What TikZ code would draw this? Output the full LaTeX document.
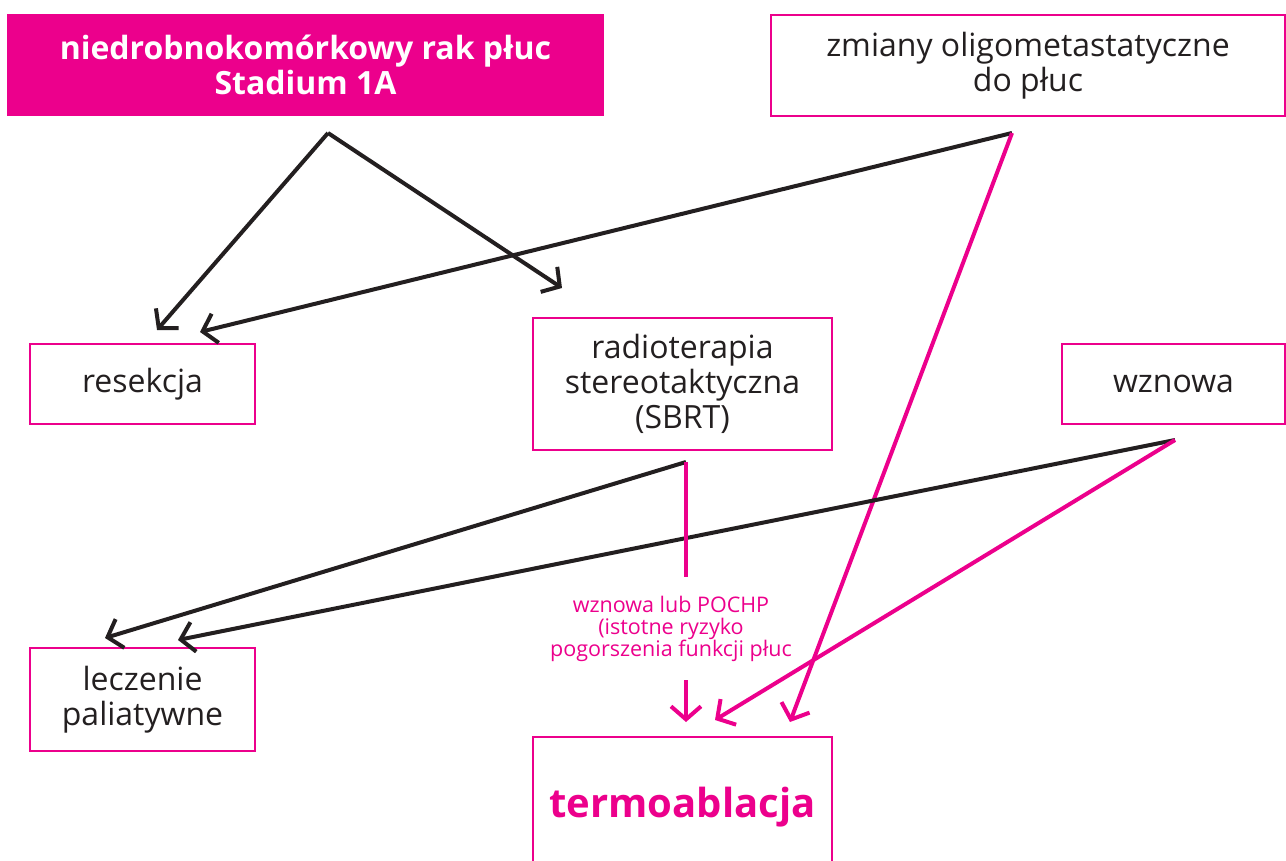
\documentclass[tikz,border=0pt]{standalone}
\usepackage{fontspec}
\setmainfont{Open Sans}
\usepackage{tikz}
\usetikzlibrary{arrows.meta}
\definecolor{magenta}{HTML}{EC008C}
\definecolor{ink}{HTML}{231F20}

\begin{document}
\begin{tikzpicture}[x=1pt,y=-1pt,
  box/.style={draw=magenta,line width=2.5pt,align=center,inner sep=0pt,
    font=\fontsize{32}{35}\selectfont,text=ink},
  arr/.style={line width=4pt,-{Straight Barb[length=13pt,width=30pt,line width=4pt]}},
  blk/.style={arr,draw=ink},
  mag/.style={arr,draw=magenta}]
\useasboundingbox (0,0) rectangle (1286,861);
\clip (0,0) rectangle (1286,861);
\node [box,fill=magenta,text=white,font=\fontsize{32}{35}\selectfont\bfseries,
  minimum width=595pt,minimum height=100pt] (nsclc) at (305.5,65)
  {niedrobnokomórkowy rak płuc\\Stadium 1A};
\node [box,minimum width=514pt,minimum height=101pt] (oligo) at (1028,65.5)
  {zmiany oligometastatyczne\\do płuc};
\node [box,minimum width=225pt,minimum height=80pt] (resekcja) at (142.5,384) {resekcja};
\node [box,minimum width=299pt,minimum height=132pt] (sbrt) at (682.5,384)
  {radioterapia\\stereotaktyczna\\(SBRT)};
\node [box,minimum width=223pt,minimum height=80pt] (wznowa) at (1173.5,384) {wznowa};
\node [box,minimum width=225pt,minimum height=103pt] (paliat) at (142.5,699.5)
  {leczenie\\paliatywne};
\node [box,minimum width=299pt,minimum height=140pt,text=magenta,
  font=\fontsize{40}{48}\selectfont\bfseries] (termo) at (682.5,807) {termoablacja};
\node [text=magenta,align=center,font=\fontsize{21.5}{21.5}\selectfont] (warunek) at (671,629)
  {wznowa lub POCHP\\(istotne ryzyko\\pogorszenia funkcji płuc};

\coordinate (nsclc-out) at (328,133);
\coordinate (oligo-out) at (1012,133);
\coordinate (sbrt-out) at (686,462);
\coordinate (wznowa-out) at (1175,440);
\coordinate (resekcja-a) at (157,330);
\coordinate (resekcja-b) at (200,332);
\coordinate (sbrt-in) at (562,288);
\coordinate (paliat-a) at (105,638);
\coordinate (paliat-b) at (178,640);
\coordinate (termo-a) at (686,722);
\coordinate (termo-b) at (715,720);
\coordinate (termo-c) at (790,722);
\coordinate (warunek-top) at (686,577);
\coordinate (warunek-bot) at (686,680);

\draw [blk] (nsclc-out) -- (resekcja-a);
\draw [blk] (nsclc-out) -- (sbrt-in);
\draw [blk] (oligo-out) -- (resekcja-b);
\draw [mag] (oligo-out) -- (termo-c);
\draw [blk] (sbrt-out) -- (paliat-a);
\draw [blk] (wznowa-out) -- (paliat-b);
\draw [mag] (wznowa-out) -- (termo-b);
\draw [magenta,line width=4pt] (sbrt-out) -- (warunek-top);
\draw [mag] (warunek-bot) -- (termo-a);
\end{tikzpicture}
\end{document}
